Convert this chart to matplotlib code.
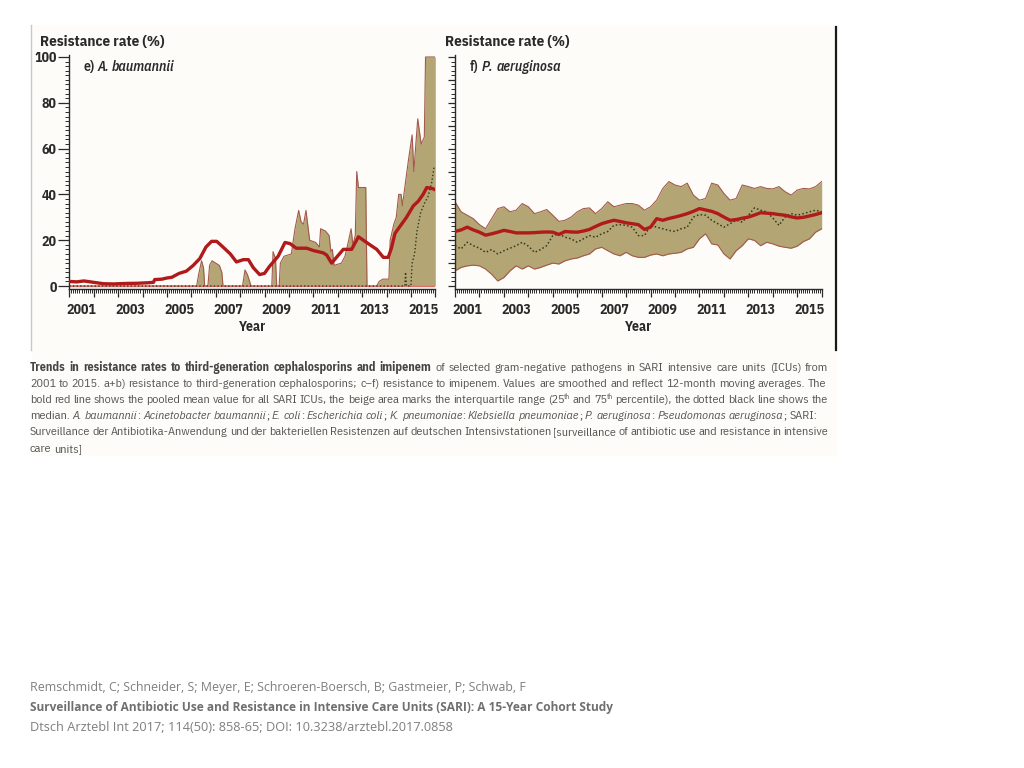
import matplotlib
matplotlib.use("Agg")
import matplotlib.pyplot as plt
from matplotlib.ticker import MultipleLocator, NullFormatter
from matplotlib.transforms import IdentityTransform
from matplotlib.lines import Line2D

# ---------------- data ----------------
year_labels = ["2001", "2003", "2005", "2007", "2009", "2011", "2013", "2015"]
year_label_pos = [2001.5, 2003.5, 2005.5, 2007.5, 2009.5, 2011.5, 2013.5, 2015.5]
y_ticklabels = ["0", "20", "40", "60", "80", "100"]

# e) A. baumannii
ab_mean_x = [2001.0, 2001.3, 2001.6, 2002.0, 2002.4, 2002.8, 2003.3, 2003.8, 2004.2, 2004.45,
             2004.5, 2004.8, 2005.0, 2005.2, 2005.5, 2005.8, 2006.08, 2006.35, 2006.6, 2006.83,
             2007.04, 2007.3, 2007.6, 2007.85, 2008.13, 2008.34, 2008.54, 2008.8, 2009.0, 2009.2,
             2009.56, 2009.84, 2010.05, 2010.3, 2010.73, 2011.0, 2011.4, 2011.55, 2011.75, 2011.95,
             2012.23, 2012.57, 2012.85, 2013.05, 2013.32, 2013.6, 2013.87, 2014.07, 2014.2, 2014.35,
             2014.55, 2014.82, 2015.1, 2015.3, 2015.5, 2015.65, 2015.9, 2016.0]
ab_mean = [2.0, 1.8, 2.2, 1.6, 1.0, 0.9, 1.1, 1.2, 1.4, 1.6,
           2.8, 3.0, 3.5, 3.8, 5.5, 6.5, 9.0, 12.0, 17.0, 19.5,
           19.5, 17.0, 14.0, 10.5, 11.5, 11.5, 8.0, 5.0, 5.5, 8.5,
           13.0, 19.0, 18.5, 16.5, 16.5, 15.5, 14.5, 13.5, 10.0, 12.5,
           16.0, 16.0, 21.5, 20.0, 18.0, 16.0, 12.5, 12.5, 16.5, 23.0,
           26.0, 30.0, 35.0, 37.0, 40.0, 43.0, 42.5, 42.0]

ab_q_x = [2001.0, 2006.22, 2006.3, 2006.42, 2006.5, 2006.55, 2006.68, 2006.75, 2006.85, 2007.0,
          2007.15, 2007.25, 2007.3, 2008.1, 2008.2, 2008.3, 2008.45, 2009.3, 2009.35, 2009.45,
          2009.5, 2009.6, 2009.65, 2009.8, 2010.1, 2010.25, 2010.4, 2010.5, 2010.6, 2010.7,
          2010.85, 2011.1, 2011.25, 2011.3, 2011.5, 2011.65, 2011.72, 2011.78, 2011.85, 2012.15,
          2012.3, 2012.45, 2012.55, 2012.62, 2012.72, 2012.78, 2012.85, 2013.15, 2013.2, 2013.6,
          2013.7, 2013.85, 2014.1, 2014.15, 2014.3, 2014.4, 2014.5, 2014.6, 2014.65, 2014.9,
          2015.05, 2015.12, 2015.28, 2015.42, 2015.55, 2015.6, 2016.0]
ab_q3 = [0, 0, 5, 11, 8, 0, 0, 9, 11, 10,
         9, 6, 0, 0, 7, 5, 0, 0, 15, 12,
         0, 0, 10, 13, 14, 25, 33, 28, 27, 33,
         20, 19, 17, 25, 24, 22, 15, 16, 9, 10,
         13, 20, 25, 18, 22, 50, 43, 43, 0, 0,
         2, 3, 3, 20, 27, 30, 40, 40, 35, 55,
         66, 50, 73, 62, 65, 100, 100]
ab_q1 = [0] * len(ab_q3)

ab_median_x = [2001.0, 2014.75, 2014.78, 2014.82, 2015.0, 2015.05, 2015.15, 2015.25, 2015.4, 2015.55,
               2015.7, 2015.85, 2015.95]
ab_median = [0, 0, 6, 0, 0, 10, 14, 24, 32, 36, 39, 45, 52]

# f) P. aeruginosa (quarterly readings)
pa_x = [2001.0 + 0.25 * i for i in range(61)]
pa_mean = [23.8, 24.5, 25.7, 24.5, 23.5, 22.2, 22.8, 23.5, 24.3, 23.8,
           23.2, 23.2, 23.2, 23.3, 23.5, 23.6, 23.5, 22.5, 23.8, 23.6,
           23.5, 24.0, 24.7, 26.0, 27.2, 28.0, 28.7, 28.2, 27.6, 27.2,
           26.8, 24.7, 25.7, 29.4, 28.7, 29.5, 30.1, 30.8, 31.6, 32.6,
           33.8, 33.2, 32.6, 31.6, 30.1, 28.7, 29.0, 29.6, 30.1, 31.0,
           32.0, 31.8, 31.6, 31.2, 30.9, 30.2, 29.7, 30.0, 30.6, 31.2, 32.0]
pa_q3 = [36.8, 32.4, 30.9, 29.4, 26.8, 25.0, 29.4, 33.8, 34.6, 32.4,
         33.1, 36.0, 34.6, 31.6, 32.4, 33.4, 30.9, 28.2, 28.7, 30.1,
         32.4, 33.8, 34.1, 31.6, 33.8, 36.8, 34.6, 35.3, 36.0, 36.0,
         35.3, 33.1, 34.6, 37.5, 42.6, 45.6, 44.1, 43.4, 44.9, 39.7,
         37.5, 38.2, 44.9, 44.1, 40.4, 37.5, 38.2, 44.1, 43.4, 42.6,
         43.4, 42.6, 42.4, 43.4, 41.2, 39.7, 41.9, 42.6, 42.4, 43.4, 45.6]
pa_q1 = [6.6, 8.1, 8.8, 9.1, 8.8, 7.4, 5.1, 2.2, 3.7, 6.6,
         8.8, 7.4, 8.8, 7.4, 8.1, 9.1, 10.0, 9.6, 11.0, 11.8,
         12.2, 13.2, 14.0, 16.2, 16.9, 15.4, 14.0, 13.2, 14.7, 13.2,
         12.5, 12.5, 13.5, 14.0, 13.2, 14.0, 14.3, 14.7, 16.2, 16.9,
         20.6, 22.8, 18.4, 17.9, 14.0, 11.8, 15.4, 17.6, 20.6, 19.9,
         17.6, 19.1, 18.4, 17.4, 16.9, 16.5, 17.4, 19.4, 20.6, 23.5, 25.0]
pa_median = [17.6, 16.2, 19.1, 17.6, 16.5, 14.7, 15.9, 14.0, 15.4, 16.5,
             17.6, 19.1, 17.4, 14.7, 15.9, 17.6, 22.0, 22.8, 21.3, 20.6,
             19.1, 20.6, 22.0, 21.3, 22.8, 23.8, 26.5, 26.8, 26.5, 25.7,
             22.0, 22.0, 26.5, 25.7, 25.0, 24.3, 23.8, 25.0, 25.7, 30.1,
             31.2, 30.9, 28.7, 27.2, 25.7, 27.2, 28.7, 27.9, 30.9, 34.1,
             33.1, 32.4, 29.7, 26.5, 30.1, 31.6, 30.9, 31.6, 32.4, 33.1, 32.4]

# ---------------- style ----------------
FILL = "#b4a574"
EDGE = "#a35a4c"
RED = "#b01a1a"
MED = "#2d3a1e"
INK = "#2a2a2a"
FONT = "IBM Plex Sans Condensed"
TICK_FS = 10.0

W, H = 1024, 768
fig = plt.figure(figsize=(W / 100, H / 100), dpi=100)
fig.patch.set_facecolor("white")
renderer = fig.canvas.get_renderer()
ID = IdentityTransform()


def seg_width(text, **kw):
    kw = dict(kw)
    kw.pop("dy", None)
    a = fig.text(0, 0, "X" + text + "X", transform=ID, **kw)
    b = fig.text(0, 0, "XX", transform=ID, **kw)
    w = a.get_window_extent(renderer).width - b.get_window_extent(renderer).width
    a.remove()
    b.remove()
    return w


def px_rect(x0, x1, ytop_px, ybot_px):
    return [x0 / W, 1 - ybot_px / H, (x1 - x0) / W, (ybot_px - ytop_px) / H]


# embedded picture background and borders
fig.patches.append(plt.Rectangle((32 / W, 1 - 455 / H), (836 - 32) / W, (455 - 25) / H,
                                 transform=fig.transFigure, color="#fdfcf9", zorder=-5))
fig.lines.append(Line2D([31 / W, 31 / W], [1 - 25 / H, 1 - 350 / H], transform=fig.transFigure,
                        color="#c8c8c8", lw=1.0))
fig.lines.append(Line2D([836 / W, 836 / W], [1 - 27 / H, 1 - 350 / H], transform=fig.transFigure,
                        color="#1a1a1a", lw=1.6))

ylo, yhi = -1.5, 101
ppu = 229.0 / 100.0
y0px = 286.0
top_px = y0px - yhi * ppu
bot_px = y0px - ylo * ppu

axL = fig.add_axes(px_rect(69.3, 435.3, top_px, bot_px))
axR = fig.add_axes(px_rect(455.0, 821.7, top_px, bot_px))

for ax in (axL, axR):
    ax.set_facecolor("none")
    ax.set_xlim(2001.0, 2016.0)
    ax.set_ylim(ylo, yhi)
    for s in ("top", "right"):
        ax.spines[s].set_visible(False)
    for s in ("left", "bottom"):
        ax.spines[s].set_color(INK)
        ax.spines[s].set_linewidth(1.0)
    ax.xaxis.set_major_locator(MultipleLocator(1))
    ax.xaxis.set_minor_locator(MultipleLocator(1 / 12))
    ax.xaxis.set_major_formatter(NullFormatter())
    ax.tick_params(axis="x", which="major", length=5.5, width=0.9, color=INK)
    ax.tick_params(axis="x", which="minor", length=3.2, width=0.7, color=INK)
    ax.yaxis.set_minor_locator(MultipleLocator(2))
    ax.tick_params(axis="y", which="minor", length=3, width=0.7, color=INK)
    for xl, lab in zip(year_label_pos, year_labels):
        ax.annotate(lab, xy=(xl, 0), xycoords=("data", "axes fraction"), xytext=(0, -14.5),
                    textcoords="offset points", ha="center", va="center", fontsize=TICK_FS,
                    fontweight="bold", family=FONT, color=INK)
    ax.annotate("Year", xy=(0.5, 0), xycoords="axes fraction", xytext=(0, -27),
                textcoords="offset points", ha="center", va="center", fontsize=TICK_FS,
                fontweight="bold", family=FONT, color=INK)

# left axis y ticks
axL.set_yticks(range(0, 101, 20), y_ticklabels)
axL.tick_params(axis="y", which="major", length=8, width=0.9, color=INK, pad=1)
for t in axL.get_yticklabels():
    t.set_fontsize(TICK_FS)
    t.set_fontweight("bold")
    t.set_family(FONT)
    t.set_color(INK)
axR.yaxis.set_major_locator(MultipleLocator(10))
axR.yaxis.set_major_formatter(NullFormatter())
axR.tick_params(axis="y", which="major", length=5, width=0.9, color=INK)

# A. baumannii
axL.fill_between(ab_q_x, ab_q1, ab_q3, color=FILL, lw=0, zorder=1)
axL.plot(ab_q_x, ab_q3, color=EDGE, lw=0.8, zorder=2)
axL.plot(ab_q_x, ab_q1, color="#d9706a", lw=1.0, zorder=2)
axL.plot(ab_median_x, ab_median, color=MED, lw=1.0, ls=(0, (1, 1.6)), zorder=3)
axL.plot(ab_mean_x, ab_mean, color=RED, lw=2.4, zorder=4, solid_joinstyle="round")

# P. aeruginosa
axR.fill_between(pa_x, pa_q1, pa_q3, color=FILL, lw=0, zorder=1)
axR.plot(pa_x, pa_q3, color=EDGE, lw=0.8, zorder=2)
axR.plot(pa_x, pa_q1, color=EDGE, lw=0.8, zorder=2)
axR.plot(pa_x, pa_median, color=MED, lw=1.1, ls=(0, (1, 1.5)), zorder=3)
axR.plot(pa_x, pa_mean, color=RED, lw=2.4, zorder=4, solid_joinstyle="round")

# titles
title_fs = 10.0 * 124.0 / seg_width("Resistance rate (%)", fontsize=10.0, fontweight="bold", family=FONT)
for xx in (40, 445):
    fig.text(xx, H - 42, "Resistance rate (%)", transform=ID, fontsize=title_fs, fontweight="bold",
             family=FONT, color=INK, va="center", ha="left")


def words_of(segs):
    words = [[]]
    for text, style in segs:
        parts = text.split(" ")
        for i, p in enumerate(parts):
            if i > 0:
                words.append([])
            if p:
                words[-1].append((p, style))
    return [w for w in words if w]


def draw_line(x0, ybase, segs, right=None, **base):
    words = words_of(segs)
    widths = []
    for w in words:
        tot = 0
        for text, extra in w:
            kw = dict(base)
            kw.update(extra)
            tot += seg_width(text, **kw)
        widths.append(tot)
    space = seg_width(" ", **base)
    if right is not None and len(words) > 1:
        gap = (right - x0 - sum(widths)) / (len(words) - 1)
    else:
        gap = space
    x = x0
    for w, wd in zip(words, widths):
        xx = x
        for text, extra in w:
            kw = dict(base)
            kw.update(extra)
            dy = kw.pop("dy", 0)
            fig.text(xx, H - ybase + dy, text, transform=ID, va="baseline", ha="left", **kw)
            xx += seg_width(text, **kw)
        x += wd + gap


draw_line(83, 71, [("e)", {}), (" A. baumannii", {"style": "italic"})],
          fontsize=TICK_FS, family=FONT, color=INK, fontweight="semibold")
draw_line(470, 71, [("f)", {}), (" P. aeruginosa", {"style": "italic"})],
          fontsize=TICK_FS, family=FONT, color=INK, fontweight="semibold")

# caption
CAP = "#555555"
CAPFONT = FONT
ref_line = ("2001 to 2015. a+b) resistance to third-generation cephalosporins; c\u2013f) resistance to imipenem. "
            "Values are smoothed and reflect 12-month moving averages. The")
cap_fs = 9.0 * 792.0 / seg_width(ref_line, fontsize=9.0, family=CAPFONT)
B = {"fontweight": "bold", "color": "#454545"}
I = {"style": "italic"}
SUP = {"fontsize": cap_fs * 0.6, "dy": 4}
cap_lines = [
    [("Trends in resistance rates to third-generation cephalosporins and imipenem", B),
     (" of selected gram-negative pathogens in SARI intensive care units (ICUs) from", {})],
    [(ref_line, {})],
    [("bold red line shows the pooled mean value for all SARI ICUs, the beige area marks the interquartile range (25", {}),
     ("th", SUP), (" and 75", {}), ("th", SUP),
     (" percentile), the dotted black line shows the", {})],
    [("median. ", {}), ("A. baumannii", I), (": ", {}), ("Acinetobacter baumannii", I), ("; ", {}),
     ("E. coli", I), (": ", {}), ("Escherichia coli", I), ("; ", {}), ("K. pneumoniae", I), (": ", {}),
     ("Klebsiella pneumoniae", I), ("; ", {}), ("P. aeruginosa", I), (": ", {}),
     ("Pseudomonas aeruginosa", I), ("; SARI:", {})],
    [("Surveillance der Antibiotika-Anwendung und der bakteriellen Resistenzen auf deutschen "
      "Intensivstationen [surveillance of antibiotic use and resistance in intensive", {})],
    [("care units]", {})],
]
cap_base = [371, 387, 403, 419, 435, 452]
cap_right = [828, 826, 828, None, 828, None]
for segs, yy, rr in zip(cap_lines, cap_base, cap_right):
    draw_line(30, yy, segs, right=rr, fontsize=cap_fs, family=CAPFONT, color=CAP)

# footer
FOOT = "Open Sans"
foot_lines = [
    ("Remschmidt, C; Schneider, S; Meyer, E; Schroeren-Boersch, B; Gastmeier, P; Schwab, F", "normal", "#7f7f7f", 500.0),
    ("Surveillance of Antibiotic Use and Resistance in Intensive Care Units (SARI): A 15-Year Cohort Study", "bold", "#6f6f6f", 584.0),
    ("Dtsch Arztebl Int 2017; 114(50): 858-65; DOI: 10.3238/arztebl.2017.0858", "normal", "#7f7f7f", 422.0),
]
for (txt, wgt, col, target), yy in zip(foot_lines, [691, 711, 731]):
    fs = 9.0 * target / seg_width(txt, fontsize=9.0, family=FOOT, fontweight=wgt)
    fig.text(30, H - yy, txt, transform=ID, fontsize=fs, family=FOOT, fontweight=wgt, color=col,
             va="baseline")

fig.savefig("out.png", dpi=100)
